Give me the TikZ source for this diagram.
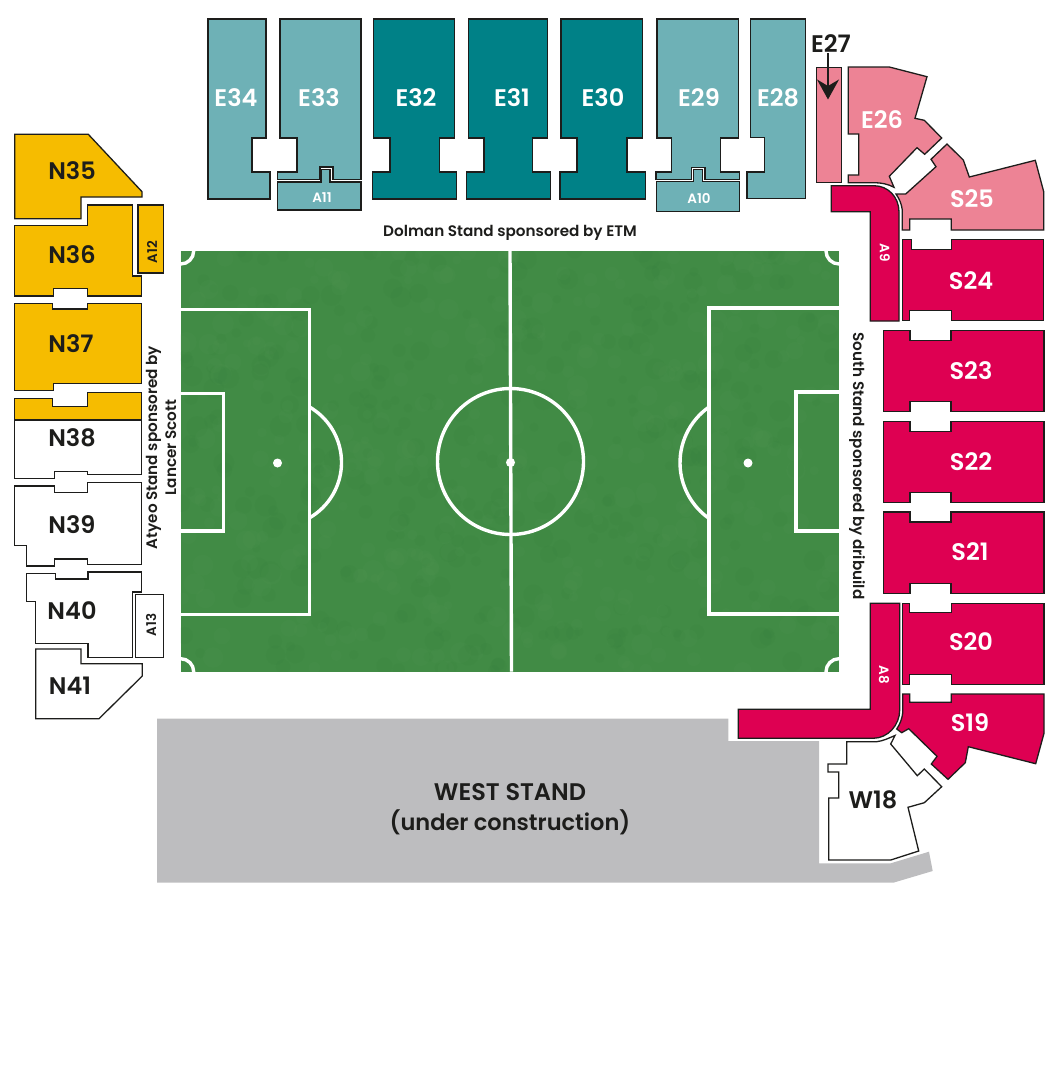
\documentclass[tikz,border=0pt]{standalone}
\usepackage{fontspec}
\setmainfont{Poppins}[UprightFont = * Medium, BoldFont = * SemiBold]
\usepackage{tikz}
\usetikzlibrary{arrows.meta}

\definecolor{pitchgreen}{HTML}{418B45}
\definecolor{grasslight}{HTML}{5BA05C}
\definecolor{grassdeep}{HTML}{2F7A38}
\definecolor{tealpale}{HTML}{6EB1B6}
\definecolor{tealdark}{HTML}{008187}
\definecolor{pinkpale}{HTML}{ED8395}
\definecolor{crimson}{HTML}{DE0052}
\definecolor{amber}{HTML}{F6BC00}
\definecolor{westgrey}{HTML}{BDBDBF}
\definecolor{inkblack}{HTML}{1D1D1B}

\tikzset{
    stand/.style = {draw = inkblack, line width = 1.3pt, line join = miter},
    pale/.style = {stand, fill = tealpale},
    dark/.style = {stand, fill = tealdark},
    pink/.style = {stand, fill = pinkpale},
    red/.style = {stand, fill = crimson},
    gold/.style = {stand, fill = amber},
    open/.style = {stand, fill = white},
    pitchline/.style = {draw = white, line width = 3.4pt},
    biglabel/.style = {font = \fontsize{24}{26}\selectfont\bfseries, inner sep = 0pt},
    whitelabel/.style = {biglabel, text = white},
    blacklabel/.style = {biglabel, text = inkblack},
    smalllabel/.style = {font = \fontsize{13.5}{16}\selectfont\bfseries, inner sep = 0pt, text = white},
    sponsorlabel/.style = {font = \fontsize{15.2}{19}\selectfont\bfseries, inner sep = 0pt, text = inkblack, align = center}
}

\begin{document}
\begin{tikzpicture}[x = 1pt, y = -1pt]
    \useasboundingbox (0, 0) rectangle (1062, 1092);

    % pitch
    \fill [pitchgreen] (180.7, 251) rectangle (839, 671.7);
    \begin{scope}
        \clip (180.7, 251) rectangle (839, 671.7);
        % grass
        \pgfmathsetseed{27}
        \foreach \i in {1, ..., 700} {
            \pgfmathsetmacro{\px}{180 + 660 * rnd}
            \pgfmathsetmacro{\py}{250 + 422 * rnd}
            \pgfmathsetmacro{\pr}{4 + 7 * rnd}
            \pgfmathparse{rnd < 0.5 ? "grasslight" : "grassdeep"}
            \fill [\pgfmathresult, opacity = 0.09] (\px, \py) circle [radius = \pr];
        }
        \draw [pitchline] (510, 251) -- (511.5, 671.7);
        \draw [pitchline] (510.5, 461.5) circle [radius = 73];
        \draw [pitchline] (180, 309.5) -- (309.5, 309.5) -- (309.5, 614.5) -- (180, 614.5);
        \draw [pitchline] (180, 393.5) -- (223.5, 393.5) -- (223.5, 531) -- (180, 531);
        \draw [pitchline] (840, 308) -- (709, 308) -- (709, 614) -- (840, 614);
        \draw [pitchline] (840, 392) -- (796, 392) -- (796, 531) -- (840, 531);
        \draw [pitchline] (309.5, 407) arc [start angle = -60, end angle = 60, radius = 64];
        \draw [pitchline] (709, 407) arc [start angle = 235, end angle = 125, radius = 68];
        \draw [pitchline] (180.7, 251) circle [radius = 13];
        \draw [pitchline] (839, 251) circle [radius = 13];
        \draw [pitchline] (180.7, 671.7) circle [radius = 13];
        \draw [pitchline] (839, 671.7) circle [radius = 13];
    \end{scope}
    \fill [white] (277.5, 463) circle [radius = 4.5];
    \fill [white] (510.5, 462.5) circle [radius = 4.5];
    \fill [white] (748, 463) circle [radius = 4.5];

    % west stand
    \fill [westgrey] (157, 718.7) -- (728.3, 718.7) -- (728.3, 741) -- (819, 741) -- (819, 863.3) -- (890.7, 863.3)
        -- (929, 851.7) -- (932.7, 871) -- (893.3, 882.7) -- (157, 882.7) -- cycle;
    \node [blacklabel, font = \fontsize{24}{26}\selectfont\bfseries] (west) at (510, 792) {WEST STAND};
    \node [blacklabel, font = \fontsize{22.5}{26}\selectfont\bfseries] (construction) at (510, 822) {(under construction)};

    % east stand
    \draw [pale] (208, 19) -- (266, 19) -- (266, 138) -- (252, 138) -- (252, 172) -- (270, 172) -- (270, 199) -- (208, 199) -- cycle;
    \draw [pale] (280, 19) -- (361, 19) -- (361, 179.3) -- (333, 179.3) -- (333, 167) -- (320, 167) -- (320, 179.3) -- (277.5, 179.3)
        -- (277.5, 172) -- (297, 172) -- (297, 138) -- (280, 138) -- cycle;
    \draw [pale] (277.5, 182) -- (321, 182) -- (321, 169.5) -- (330, 169.5) -- (330, 182) -- (361, 182) -- (361, 210) -- (277.5, 210) -- cycle;
    \foreach \xa/\xb/\xc/\xd/\xe/\xf in {373.3/390/439.3/454.7/372.3/456.7, 468.7/484/532.7/547.3/466.3/550.7, 561/577/627/642.7/560/645.7} {
        \draw [dark] (\xa, 19) -- (\xd, 19) -- (\xd, 138) -- (\xc, 138) -- (\xc, 172) -- (\xf, 172) -- (\xf, 199) -- (\xe, 199)
            -- (\xe, 172) -- (\xb, 172) -- (\xb, 138) -- (\xa, 138) -- cycle;
    }
    \draw [pale] (657, 19) -- (738.3, 19) -- (738.3, 138) -- (720.3, 138) -- (720.3, 172) -- (739.3, 172) -- (739.3, 179.3)
        -- (705, 179.3) -- (705, 167.3) -- (691.3, 167.3) -- (691.3, 179.3) -- (656, 179.3) -- (656, 172) -- (671.3, 172) -- (671.3, 138) -- (657, 138) -- cycle;
    \draw [pale] (656.3, 181.7) -- (693.7, 181.7) -- (693.7, 169.3) -- (702.7, 169.3) -- (702.7, 181.7) -- (739.3, 181.7) -- (739.3, 211.7) -- (656.3, 211.7) -- cycle;
    \draw [pale] (750.3, 19) -- (805.3, 19) -- (805.3, 198.5) -- (747, 198.5) -- (747, 172) -- (764.3, 172) -- (764.3, 137.5) -- (750.3, 137.5) -- cycle;
    \draw [pink] (816.3, 67.3) rectangle (841.3, 182.7);
    \draw [pink] (848.3, 67) -- (889.3, 67) -- (927, 76.7) -- (915, 118.3) -- (924.3, 120.3) -- (941.7, 138) -- (924.7, 154.3) -- (917, 147.7)
        -- (889.3, 176.3) -- (894, 187.3) .. controls (888, 184) and (881, 182.7) .. (874, 182.7) -- (848.3, 182.7) -- (848.3, 175) -- (858.7, 175) -- (858.7, 134) -- (848.3, 134) -- cycle;

    % south stand
    \draw [pink] (947, 144) -- (963.3, 160) -- (969.3, 177) -- (1035.3, 160.3) -- (1043.7, 191.7) -- (1043.7, 230) -- (951.3, 230) -- (951.3, 219)
        -- (909.7, 219) -- (909.7, 230) -- (902.3, 230) -- (902.3, 210) .. controls (901.5, 204) and (899.5, 199) .. (896, 194) -- (905.7, 194) -- (936, 166.7) -- (931, 159.3) -- cycle;
    \draw [red] (831.3, 185.7) -- (874, 185.7) .. controls (888, 185.7) and (899, 197) .. (899, 212) -- (899, 321) -- (870.3, 321) -- (870.3, 211.7) -- (831.3, 211.7) -- cycle;
    \draw [red] (902.3, 239.3) -- (911.3, 239.3) -- (911.3, 249.3) -- (951.3, 249.3) -- (951.3, 239.3) -- (1043.7, 239.3) -- (1043.7, 320.7)
        -- (951.3, 320.7) -- (951.3, 310.7) -- (909.7, 310.7) -- (909.7, 320.7) -- (902.3, 320.7) -- cycle;
    \foreach \ytop/\ynotch/\ystep/\ybase in {330.7/340.7/401.7/411.7, 421.3/431.3/492.7/502.7, 512/522/583.7/593.7} {
        \draw [red] (883.3, \ytop) -- (910, \ytop) -- (910, \ynotch) -- (951, \ynotch) -- (951, \ytop) -- (1044, \ytop) -- (1044, \ybase)
            -- (951, \ybase) -- (951, \ystep) -- (910, \ystep) -- (910, \ybase) -- (883.3, \ybase) -- cycle;
    }
    \draw [red] (902.7, 603.3) -- (909.7, 603.3) -- (909.7, 612.7) -- (951.3, 612.7) -- (951.3, 603.3) -- (1044, 603.3) -- (1044, 684.3)
        -- (951.3, 684.3) -- (951.3, 674.7) -- (909.7, 674.7) -- (909.7, 684.3) -- (902.7, 684.3) -- cycle;
    \draw [red] (902.7, 694) -- (909.7, 694) -- (909.7, 702.3) -- (951.3, 702.3) -- (951.3, 694) -- (1044, 694) -- (1044, 733.3) -- (1035.7, 763.7)
        -- (968.3, 746.7) -- (965.3, 762.7) -- (948, 779.3) -- (931.3, 764) -- (937, 756.3) -- (908.7, 728.7) -- (901.7, 732.7) -- (896.7, 729)
        .. controls (900, 724) and (902, 719) .. (902.7, 713) -- cycle;
    \draw [red] (870.3, 603.3) -- (899.7, 603.3) -- (899.7, 710) .. controls (899.7, 725) and (888, 738.3) .. (873, 738.3) -- (738.3, 738.3)
        -- (738.3, 709.3) -- (870.3, 709.3) -- cycle;
    \draw [open] (846.7, 741.7) -- (876.7, 741.7) .. controls (883, 741) and (889, 738) .. (895, 735.5) -- (890.7, 744) -- (917.3, 775.7) -- (924.3, 769)
        -- (941.7, 786.7) -- (924.3, 802.7) -- (908, 807.3) -- (918.7, 851) -- (890.7, 860) -- (828.7, 860) -- (828.7, 798) -- (838.7, 798)
        -- (838.7, 772) -- (828, 772) -- (828, 764) -- (846.7, 764) -- cycle;

    % north stand
    \draw [gold] (14.7, 134.3) -- (88.3, 134.3) -- (142, 191.7) -- (142, 197) -- (81, 197) -- (81, 218.7) -- (14.7, 218.7) -- cycle;
    \draw [gold] (87.3, 205) -- (132.3, 205) -- (132.3, 276) -- (141.7, 276) -- (141.7, 296) -- (87.3, 296) -- (87.3, 288.7) -- (53.7, 288.7)
        -- (53.7, 296) -- (14.7, 296) -- (14.7, 225.7) -- (87.3, 225.7) -- cycle;
    \draw [gold] (138, 205) rectangle (163.7, 273);
    \draw [gold] (14.7, 303.3) -- (52.7, 303.3) -- (52.7, 309) -- (87.3, 309) -- (87.3, 303.3) -- (141.7, 303.3) -- (141.7, 383.3) -- (53.3, 383.3)
        -- (53.3, 390.3) -- (14.7, 390.3) -- cycle;
    \draw [gold] (14.7, 398.3) -- (52.7, 398.3) -- (52.7, 406.3) -- (87.3, 406.3) -- (87.3, 392.7) -- (141.7, 392.7) -- (141.7, 420) -- (14.7, 420) -- cycle;
    \draw [open] (14.7, 420) -- (141.7, 420) -- (141.7, 474.3) -- (87.3, 474.3) -- (87.3, 471.7) -- (54.7, 471.7) -- (54.7, 478.3) -- (14.7, 478.3) -- cycle;
    \draw [open] (14.7, 486) -- (54.7, 486) -- (54.7, 492.3) -- (87.3, 492.3) -- (87.3, 482.7) -- (141.7, 482.7) -- (141.7, 564.7) -- (87.3, 564.7)
        -- (87.3, 559) -- (54.7, 559) -- (54.7, 566) -- (26.7, 566) -- (26.7, 545.3) -- (14.7, 545.3) -- cycle;
    \draw [open] (26.7, 573.7) -- (55.7, 573.7) -- (55.7, 579) -- (88, 579) -- (88, 572) -- (141.7, 572) -- (141.7, 592) -- (132.3, 592) -- (132.3, 657.7)
        -- (88, 657.7) -- (88, 643.7) -- (35.7, 643.7) -- (35.7, 601.3) -- (26.7, 601.3) -- cycle;
    \draw [open] (135.7, 594.7) rectangle (163.7, 657.7);
    \draw [open] (35.7, 649) -- (81, 649) -- (81, 663.7) -- (142.3, 663.7) -- (142.3, 676) -- (99, 718.7) -- (35.7, 718.7) -- cycle;

    % section names
    \foreach \name/\px/\py in {E34/236/98, E33/319/98, E32/416/98, E31/512/98, E30/603/98, E29/699/98, E28/778/98, E26/882/120,
        S25/972/199, S24/971/281, S23/971/371, S22/971/462, S21/970/552, S20/971/642, S19/970/723} {
        \node [whitelabel] (\name) at (\px, \py) {\name};
    }
    \foreach \name/\px/\py in {W18/873/800, N35/72/171, N36/72/255, N37/71/344, N38/72/438, N39/72/525, N40/72/611, N41/70/686} {
        \node [blacklabel] (\name) at (\px, \py) {\name};
    }
    \node [smalllabel] (A11) at (322, 198) {A11};
    \node [smalllabel] (A10) at (699, 198) {A10};
    \node [smalllabel, rotate = -90] (A9) at (885, 253) {A9};
    \node [smalllabel, rotate = -90] (A8) at (884, 675) {A8};
    \node [smalllabel, rotate = 90, text = inkblack] (A12) at (152, 252) {A12};
    \node [smalllabel, rotate = 90, text = inkblack] (A13) at (151, 625) {A13};

    % E27 sits outside its narrow block
    \node [blacklabel] (E27) at (831, 44) {E27};
    \coordinate (E27block) at (828, 99.5);
    \draw [-{Stealth[length = 20pt, width = 22pt]}, draw = inkblack, fill = inkblack, line width = 1.5pt] (E27.south -| E27block) -- (E27block);

    % sponsors
    \node [sponsorlabel] (dolman) at (510, 233) {Dolman Stand sponsored by ETM};
    \node [sponsorlabel, rotate = -90] (south) at (857, 466) {South Stand sponsored by dribuild};
    \node [sponsorlabel, rotate = 90] (atyeo) at (161, 447.5) {Atyeo Stand sponsored by\\Lancer Scott};
\end{tikzpicture}
\end{document}
